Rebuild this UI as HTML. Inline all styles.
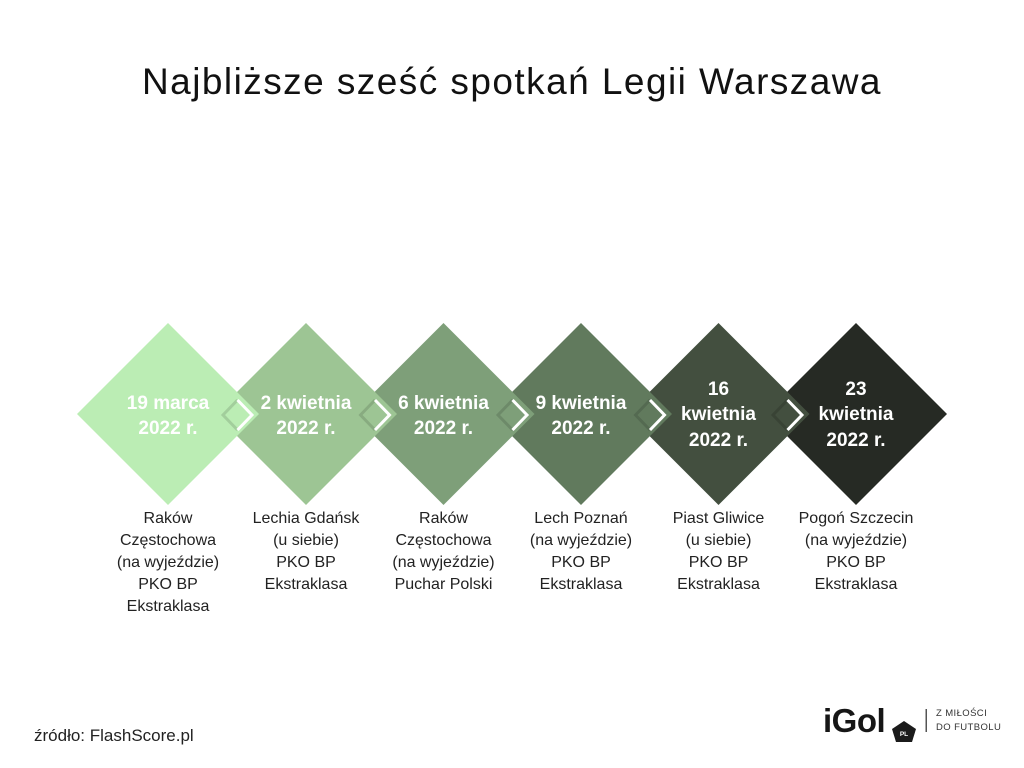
<!DOCTYPE html>
<html>
<head>
<meta charset="utf-8">
<style>
  html, body { margin:0; padding:0; }
  body { width:1024px; height:768px; background:#ffffff; position:relative; overflow:hidden;
         font-family:"Liberation Sans", "DejaVu Sans", sans-serif; }
  .title { position:absolute; left:0; top:63px; width:1024px; text-align:center;
           font-size:37px; line-height:37px; color:#111; letter-spacing:1.45px; white-space:nowrap; }
  .date { position:absolute; width:150px; text-align:center; color:#ffffff; font-weight:bold;
          font-size:19px; line-height:25.5px; }
  .info { position:absolute; top:508px; width:150px; text-align:center; color:#222;
          font-size:16px; line-height:22px; white-space:nowrap; }
  .src { position:absolute; left:34px; top:726px; font-size:17px; line-height:20px; color:#222; }
  .logo { position:absolute; left:823px; top:704px; font-size:33px; line-height:33px;
          font-weight:bold; color:#161616; letter-spacing:-0.5px; }
  .tag { position:absolute; left:936px; font-size:9.5px; line-height:11px; color:#333;
         letter-spacing:0.4px; white-space:nowrap; }
</style>
</head>
<body>
<div class="title">Najbliższe sześć spotkań Legii Warszawa</div>

<svg width="1024" height="768" style="position:absolute;left:0;top:0">
  <polygon points="856,323 947,414 856,505 765,414" fill="#262a24"/>
  <polygon points="718.5,323 809.5,414 718.5,505 627.5,414" fill="#434f3f"/>
  <polygon points="581,323 672,414 581,505 490,414" fill="#617a5d"/>
  <polygon points="443.5,323 534.5,414 443.5,505 352.5,414" fill="#7e9f79"/>
  <polygon points="306,323 397,414 306,505 215,414" fill="#9dc594"/>
  <polygon points="168,323 259,414 168,505 77,414" fill="#bbedb4"/>
  <g fill="none" stroke-width="3" stroke-linejoin="miter">
    <polyline points="237.5,400 223,415 237.5,430" stroke="rgba(0,0,0,0.13)"/>
    <polyline points="237.5,400 252,415 237.5,430" stroke="#ffffff"/>
    <polyline points="375,400 360.5,415 375,430" stroke="rgba(0,0,0,0.13)"/>
    <polyline points="375,400 389.5,415 375,430" stroke="#ffffff"/>
    <polyline points="512.5,400 498,415 512.5,430" stroke="rgba(0,0,0,0.13)"/>
    <polyline points="512.5,400 527,415 512.5,430" stroke="#ffffff"/>
    <polyline points="650,400 635.5,415 650,430" stroke="rgba(0,0,0,0.13)"/>
    <polyline points="650,400 664.5,415 650,430" stroke="#ffffff"/>
    <polyline points="787.5,400 773,415 787.5,430" stroke="rgba(0,0,0,0.15)"/>
    <polyline points="787.5,400 802,415 787.5,430" stroke="#ffffff"/>
  </g>
  <polygon points="904,721 916,729 912,742 896,742 892,729" fill="#1b1b1b"/>
  <text x="904" y="736" font-family="Liberation Sans, sans-serif" font-size="6.5" font-weight="bold" fill="#ffffff" text-anchor="middle">PL</text>
  <rect x="925.5" y="709" width="1.5" height="23" fill="#555"/>
</svg>

<div class="date" style="left:93px;top:390.5px;">19 marca<br>2022 r.</div>
<div class="date" style="left:231px;top:390.5px;">2 kwietnia<br>2022 r.</div>
<div class="date" style="left:368.5px;top:390.5px;">6 kwietnia<br>2022 r.</div>
<div class="date" style="left:506px;top:390.5px;">9 kwietnia<br>2022 r.</div>
<div class="date" style="left:643.5px;top:376.5px;">16<br>kwietnia<br>2022 r.</div>
<div class="date" style="left:781px;top:376.5px;">23<br>kwietnia<br>2022 r.</div>

<div class="info" style="left:93px;">Raków<br>Częstochowa<br>(na wyjeździe)<br>PKO BP<br>Ekstraklasa</div>
<div class="info" style="left:231px;">Lechia Gdańsk<br>(u siebie)<br>PKO BP<br>Ekstraklasa</div>
<div class="info" style="left:368.5px;">Raków<br>Częstochowa<br>(na wyjeździe)<br>Puchar Polski</div>
<div class="info" style="left:506px;">Lech Poznań<br>(na wyjeździe)<br>PKO BP<br>Ekstraklasa</div>
<div class="info" style="left:643.5px;">Piast Gliwice<br>(u siebie)<br>PKO BP<br>Ekstraklasa</div>
<div class="info" style="left:781px;">Pogoń Szczecin<br>(na wyjeździe)<br>PKO BP<br>Ekstraklasa</div>

<div class="src">źródło: FlashScore.pl</div>
<div class="logo">iGol</div>
<div class="tag" style="top:708px;">Z MIŁOŚCI</div>
<div class="tag" style="top:722px;">DO FUTBOLU</div>
</body>
</html>
